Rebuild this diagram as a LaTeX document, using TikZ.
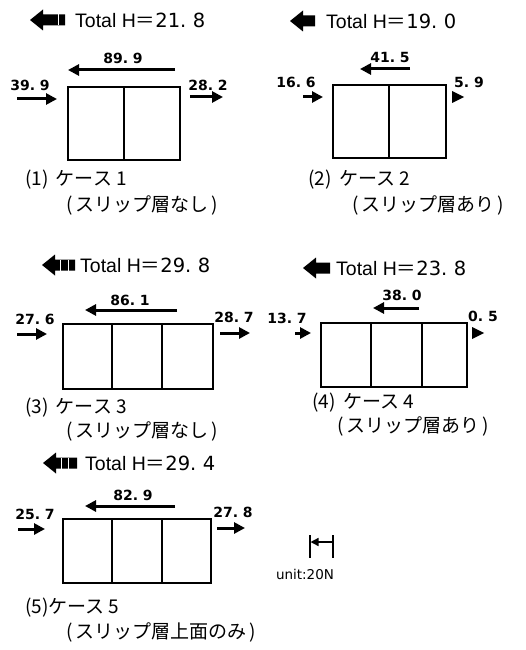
\documentclass[tikz,border=0pt]{standalone}
\usepackage{fontspec}
\setmainfont{Liberation Sans}
\newfontfamily\cjk{Noto Sans CJK JP}
\newfontfamily\numf{DejaVu Sans}
\usetikzlibrary{arrows.meta}
\newcommand\blockarrowL[3]{%
  \fill (#1,#2) -- (#1+13,#2-10.5) -- (#1+13,#2-5.5) -- (#3,#2-5.5) -- (#3,#2+5.5) -- (#1+13,#2+5.5) -- (#1+13,#2+10.5) -- cycle;}
\newcommand\whiteslit[2]{\draw[white,line width=0.7pt] (#1,#2-5.5) -- (#1,#2+5.5);}
\tikzset{
  boxline/.style={line width=1.4pt},
  force/.style={line width=3pt,-{Triangle[length=11pt,width=11pt]}},
  numlab/.style={font=\numf\bfseries\fontsize{14}{15}\selectfont,inner sep=0pt},
  totlab/.style={anchor=west,inner sep=0pt,font=\fontsize{19.5}{21}\selectfont},
  caplab/.style={anchor=west,inner sep=0pt,font=\cjk\fontsize{19}{21}\selectfont},
  unitlab/.style={inner sep=0pt,font=\numf\fontsize{13.5}{15}\selectfont},
}
\begin{document}
\begin{tikzpicture}[x=1pt,y=-1pt]
\useasboundingbox (0,0) rectangle (525,650);
% ---------- Case 1 ----------
\blockarrowL{30}{20}{65}\whiteslit{58}{20}
\node[totlab] (t1) at (75,20) {Total H{\cjk ＝}{\numf 21.\,\,8}};
\node[numlab] (l1a) at (123,58) {89.\ 9};
\draw[force] (175,70) coordinate (f1s) -- (68,70) coordinate (f1e);
\draw[boxline] (68,87) rectangle (180,160);
\draw[boxline] (124,87) -- (124,160);
\node[numlab] (l1b) at (30,85) {39.\ 9};
\draw[force] (17,99) coordinate (f1bs) -- (57,99) coordinate (f1be);
\node[numlab] (l1c) at (208,85) {28.\ 2};
\draw[force] (190,97) coordinate (f1cs) -- (223,97) coordinate (f1ce);
\node[caplab] (c1a) at (25,180) {(1)\, ケース 1};
\node[caplab] (c1b) at (66,205) {(\,スリップ層なし\,)};
% ---------- Case 2 ----------
\blockarrowL{290}{21}{315}
\node[totlab] (t2) at (326,21) {Total H{\cjk ＝}{\numf 19.\,\,0}};
\node[numlab] (l2a) at (390,57) {41.\ 5};
\draw[force] (410,69) coordinate (f2s) -- (360,69) coordinate (f2e);
\draw[boxline] (333,85) rectangle (446,158);
\draw[boxline] (389,85) -- (389,158);
\node[numlab] (l2b) at (296,82) {16.\ 6};
\draw[force] (303,97) coordinate (f2bs) -- (323,97) coordinate (f2be);
\node[numlab] (l2c) at (469,82) {5.\ 9};
\fill (452,91) -- (464,97) -- (452,103) -- cycle;
\node[caplab] (c2a) at (308,180) {(2)\, ケース 2};
\node[caplab] (c2b) at (352,205) {(\,スリップ層あり\,)};
% ---------- Case 3 ----------
\blockarrowL{42}{265}{75}\whiteslit{60}{265}\whiteslit{68}{265}
\node[totlab] (t3) at (80,265) {Total H{\cjk ＝}{\numf 29.\,\,8}};
\node[numlab] (l3a) at (130,300) {86.\ 1};
\draw[force] (177,310) coordinate (f3s) -- (85,310) coordinate (f3e);
\draw[boxline] (63,324) rectangle (213,389);
\draw[boxline] (112,324) -- (112,389);
\draw[boxline] (162,324) -- (162,389);
\node[numlab] (l3b) at (35,319) {27.\ 6};
\draw[force] (17,334) coordinate (f3bs) -- (47,334) coordinate (f3be);
\node[numlab] (l3c) at (234,317) {28.\ 7};
\draw[force] (220,333) coordinate (f3cs) -- (250,333) coordinate (f3ce);
\node[caplab] (c3a) at (25,408) {(3)\, ケース 3};
\node[caplab] (c3b) at (66,431) {(\,スリップ層なし\,)};
% ---------- Case 4 ----------
\blockarrowL{303}{268}{330}
\node[totlab] (t4) at (336,268) {Total H{\cjk ＝}{\numf 23.\,\,8}};
\node[numlab] (l4a) at (402,295) {38.\ 0};
\draw[force] (419,308) coordinate (f4s) -- (373,308) coordinate (f4e);
\draw[boxline] (321,323) rectangle (467,387);
\draw[boxline] (371,323) -- (371,387);
\draw[boxline] (422,323) -- (422,387);
\node[numlab] (l4b) at (287,318) {13.\ 7};
\draw[force] (295,333) coordinate (f4bs) -- (311,333) coordinate (f4be);
\node[numlab] (l4c) at (483,316) {0.\ 5};
\fill (472,327) -- (484,333) -- (472,339) -- cycle;
\node[caplab] (c4a) at (312,403) {(4)\, ケース 4};
\node[caplab] (c4b) at (337,426) {(\,スリップ層あり\,)};
% ---------- Case 5 ----------
\blockarrowL{43}{463}{77}\whiteslit{61}{463}\whiteslit{68}{463}
\node[totlab] (t5) at (85,463) {Total H{\cjk ＝}{\numf 29.\,\,4}};
\node[numlab] (l5a) at (133,495) {82.\ 9};
\draw[force] (175,506) coordinate (f5s) -- (85,506) coordinate (f5e);
\draw[boxline] (63,519) rectangle (211,583);
\draw[boxline] (112,519) -- (112,583);
\draw[boxline] (162,519) -- (162,583);
\node[numlab] (l5b) at (35,514) {25.\ 7};
\draw[force] (18,529) coordinate (f5bs) -- (45,529) coordinate (f5be);
\node[numlab] (l5c) at (233,512) {27.\ 8};
\draw[force] (217,528) coordinate (f5cs) -- (245,528) coordinate (f5ce);
\node[caplab] (c5a) at (25,608) {(5)ケース 5};
\node[caplab] (c5b) at (66,632) {(\,スリップ層上面のみ\,)};
% ---------- unit ----------
\draw[line width=1.2pt] (310,535) coordinate (u1) -- (310,558) coordinate (u2);
\draw[line width=1.2pt] (333,535) coordinate (u3) -- (333,558) coordinate (u4);
\draw[line width=1.4pt,-{Triangle[length=8pt,width=8pt]}] (333,542) coordinate (u5) -- (310.5,542) coordinate (u6);
\node[unitlab] (ul) at (305,574) {unit:20N};
\end{tikzpicture}
\end{document}
